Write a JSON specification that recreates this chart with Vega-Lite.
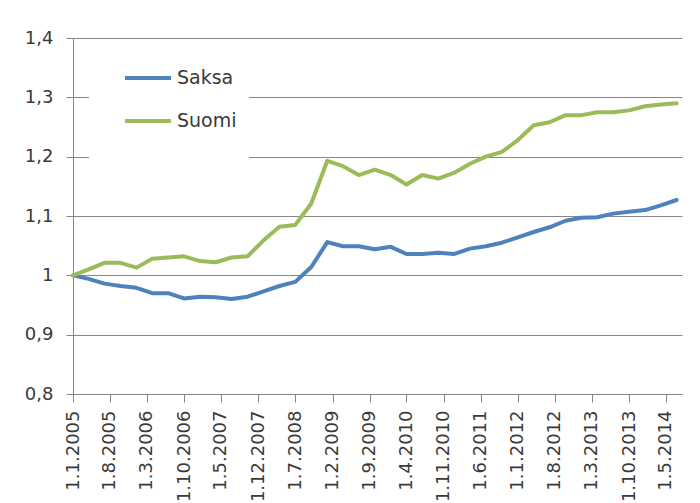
{
  "$schema": "https://vega.github.io/schema/vega-lite/v6.json",
  "width": 609,
  "height": 356,
  "autosize": {"type": "none"},
  "padding": {"left": 73, "top": 38, "right": 18, "bottom": 109},
  "background": "white",
  "config": {"font": "DejaVu Sans", "view": {"stroke": null}},
  "datasets": {
    "series": [
      {"date": "2005-01-01", "series": "Saksa", "value": 1.000},
      {"date": "2005-04-01", "series": "Saksa", "value": 0.994},
      {"date": "2005-07-01", "series": "Saksa", "value": 0.986},
      {"date": "2005-10-01", "series": "Saksa", "value": 0.982},
      {"date": "2006-01-01", "series": "Saksa", "value": 0.979},
      {"date": "2006-04-01", "series": "Saksa", "value": 0.970},
      {"date": "2006-07-01", "series": "Saksa", "value": 0.970},
      {"date": "2006-10-01", "series": "Saksa", "value": 0.961},
      {"date": "2007-01-01", "series": "Saksa", "value": 0.964},
      {"date": "2007-04-01", "series": "Saksa", "value": 0.963},
      {"date": "2007-07-01", "series": "Saksa", "value": 0.960},
      {"date": "2007-10-01", "series": "Saksa", "value": 0.964},
      {"date": "2008-01-01", "series": "Saksa", "value": 0.973},
      {"date": "2008-04-01", "series": "Saksa", "value": 0.982},
      {"date": "2008-07-01", "series": "Saksa", "value": 0.989},
      {"date": "2008-10-01", "series": "Saksa", "value": 1.014},
      {"date": "2009-01-01", "series": "Saksa", "value": 1.056},
      {"date": "2009-04-01", "series": "Saksa", "value": 1.049},
      {"date": "2009-07-01", "series": "Saksa", "value": 1.049},
      {"date": "2009-10-01", "series": "Saksa", "value": 1.044},
      {"date": "2010-01-01", "series": "Saksa", "value": 1.048},
      {"date": "2010-04-01", "series": "Saksa", "value": 1.036},
      {"date": "2010-07-01", "series": "Saksa", "value": 1.036},
      {"date": "2010-10-01", "series": "Saksa", "value": 1.038},
      {"date": "2011-01-01", "series": "Saksa", "value": 1.036},
      {"date": "2011-04-01", "series": "Saksa", "value": 1.045},
      {"date": "2011-07-01", "series": "Saksa", "value": 1.049},
      {"date": "2011-10-01", "series": "Saksa", "value": 1.055},
      {"date": "2012-01-01", "series": "Saksa", "value": 1.064},
      {"date": "2012-04-01", "series": "Saksa", "value": 1.073},
      {"date": "2012-07-01", "series": "Saksa", "value": 1.081},
      {"date": "2012-10-01", "series": "Saksa", "value": 1.092},
      {"date": "2013-01-01", "series": "Saksa", "value": 1.097},
      {"date": "2013-04-01", "series": "Saksa", "value": 1.098},
      {"date": "2013-07-01", "series": "Saksa", "value": 1.104},
      {"date": "2013-10-01", "series": "Saksa", "value": 1.107},
      {"date": "2014-01-01", "series": "Saksa", "value": 1.110},
      {"date": "2014-04-01", "series": "Saksa", "value": 1.118},
      {"date": "2014-07-01", "series": "Saksa", "value": 1.127},
      {"date": "2005-01-01", "series": "Suomi", "value": 1.000},
      {"date": "2005-04-01", "series": "Suomi", "value": 1.010},
      {"date": "2005-07-01", "series": "Suomi", "value": 1.021},
      {"date": "2005-10-01", "series": "Suomi", "value": 1.021},
      {"date": "2006-01-01", "series": "Suomi", "value": 1.013},
      {"date": "2006-04-01", "series": "Suomi", "value": 1.028},
      {"date": "2006-07-01", "series": "Suomi", "value": 1.030},
      {"date": "2006-10-01", "series": "Suomi", "value": 1.032},
      {"date": "2007-01-01", "series": "Suomi", "value": 1.024},
      {"date": "2007-04-01", "series": "Suomi", "value": 1.022},
      {"date": "2007-07-01", "series": "Suomi", "value": 1.030},
      {"date": "2007-10-01", "series": "Suomi", "value": 1.032},
      {"date": "2008-01-01", "series": "Suomi", "value": 1.059},
      {"date": "2008-04-01", "series": "Suomi", "value": 1.082},
      {"date": "2008-07-01", "series": "Suomi", "value": 1.085},
      {"date": "2008-10-01", "series": "Suomi", "value": 1.121},
      {"date": "2009-01-01", "series": "Suomi", "value": 1.193},
      {"date": "2009-04-01", "series": "Suomi", "value": 1.184},
      {"date": "2009-07-01", "series": "Suomi", "value": 1.169},
      {"date": "2009-10-01", "series": "Suomi", "value": 1.178},
      {"date": "2010-01-01", "series": "Suomi", "value": 1.169},
      {"date": "2010-04-01", "series": "Suomi", "value": 1.153},
      {"date": "2010-07-01", "series": "Suomi", "value": 1.169},
      {"date": "2010-10-01", "series": "Suomi", "value": 1.163},
      {"date": "2011-01-01", "series": "Suomi", "value": 1.173},
      {"date": "2011-04-01", "series": "Suomi", "value": 1.188},
      {"date": "2011-07-01", "series": "Suomi", "value": 1.200},
      {"date": "2011-10-01", "series": "Suomi", "value": 1.208},
      {"date": "2012-01-01", "series": "Suomi", "value": 1.228},
      {"date": "2012-04-01", "series": "Suomi", "value": 1.253},
      {"date": "2012-07-01", "series": "Suomi", "value": 1.258},
      {"date": "2012-10-01", "series": "Suomi", "value": 1.270},
      {"date": "2013-01-01", "series": "Suomi", "value": 1.270},
      {"date": "2013-04-01", "series": "Suomi", "value": 1.275},
      {"date": "2013-07-01", "series": "Suomi", "value": 1.275},
      {"date": "2013-10-01", "series": "Suomi", "value": 1.278},
      {"date": "2014-01-01", "series": "Suomi", "value": 1.285},
      {"date": "2014-04-01", "series": "Suomi", "value": 1.288},
      {"date": "2014-07-01", "series": "Suomi", "value": 1.290}
    ]
  },
  "data": {"name": "series"},
  "mark": {"type": "line", "strokeWidth": 4, "strokeJoin": "round", "strokeCap": "round"},
  "encoding": {
    "x": {
      "field": "date",
      "type": "temporal",
      "scale": {
        "type": "utc",
        "nice": false,
        "domain": [
          {"year": 2005, "month": 1, "date": 1, "utc": true},
          {"year": 2014, "month": 8, "date": 1, "utc": true}
        ]
      },
      "axis": {
        "title": null,
        "values": [
          {"year": 2005, "month": 1, "date": 1, "utc": true},
          {"year": 2005, "month": 8, "date": 1, "utc": true},
          {"year": 2006, "month": 3, "date": 1, "utc": true},
          {"year": 2006, "month": 10, "date": 1, "utc": true},
          {"year": 2007, "month": 5, "date": 1, "utc": true},
          {"year": 2007, "month": 12, "date": 1, "utc": true},
          {"year": 2008, "month": 7, "date": 1, "utc": true},
          {"year": 2009, "month": 2, "date": 1, "utc": true},
          {"year": 2009, "month": 9, "date": 1, "utc": true},
          {"year": 2010, "month": 4, "date": 1, "utc": true},
          {"year": 2010, "month": 11, "date": 1, "utc": true},
          {"year": 2011, "month": 6, "date": 1, "utc": true},
          {"year": 2012, "month": 1, "date": 1, "utc": true},
          {"year": 2012, "month": 8, "date": 1, "utc": true},
          {"year": 2013, "month": 3, "date": 1, "utc": true},
          {"year": 2013, "month": 10, "date": 1, "utc": true},
          {"year": 2014, "month": 5, "date": 1, "utc": true}
        ],
        "format": "%-d.%-m.%Y",
        "labelAngle": -90,
        "labelOverlap": false,
        "labelFlush": false,
        "grid": false,
        "tickSize": 8,
        "labelPadding": 8,
        "labelFontSize": 18,
        "labelColor": "#3a3a3a",
        "domainColor": "#878787",
        "tickColor": "#878787"
      }
    },
    "y": {
      "field": "value",
      "type": "quantitative",
      "scale": {"domain": [0.8, 1.4], "nice": false, "zero": false},
      "axis": {
        "title": null,
        "values": [0.8, 0.9, 1.0, 1.1, 1.2, 1.3, 1.4],
        "labelExpr": "replace(format(datum.value, '.1~f'), '.', ',')",
        "grid": true,
        "gridColor": "#878787",
        "domainColor": "#878787",
        "tickColor": "#878787",
        "tickSize": 7,
        "labelPadding": 13,
        "labelFontSize": 18,
        "labelColor": "#3a3a3a"
      }
    },
    "color": {
      "field": "series",
      "type": "nominal",
      "scale": {"domain": ["Saksa", "Suomi"], "range": ["#4F81BD", "#9BBB59"]},
      "legend": {
        "title": "\u00a0",
        "titleOrient": "bottom",
        "titleFontSize": 14,
        "titlePadding": 8,
        "orient": "none",
        "legendX": 16,
        "legendY": 3,
        "symbolType": "stroke",
        "symbolSize": 2116,
        "symbolStrokeWidth": 4,
        "symbolOffset": 22,
        "labelFontSize": 19,
        "labelColor": "#3a3a3a",
        "labelOffset": 4,
        "rowPadding": 8,
        "fillColor": "white",
        "padding": 12
      }
    }
  }
}
